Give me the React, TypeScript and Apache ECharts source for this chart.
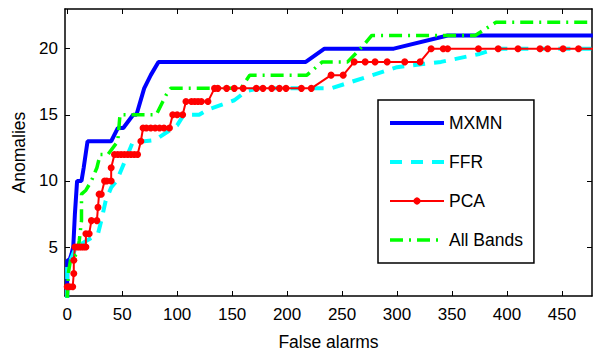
import React, { useEffect, useRef } from "react";
import * as echarts from "echarts";

const xTicks = [0, 50, 100, 150, 200, 250, 300, 350, 400, 450];
const yTicks = [5, 10, 15, 20];
const seriesNames = ["MXMN", "FFR", "PCA", "All Bands"];

const mxmn: [number, number][] = [
  [0, 1], [0, 4], [2, 4], [4, 4.5], [5.5, 5], [7, 7.5], [9, 10], [13, 10],
  [15, 11], [18.5, 13], [40, 13], [46, 14], [51, 14], [60, 15], [63, 15],
  [70, 17], [76, 18], [83, 19], [217, 19], [234, 20], [297, 20], [346, 21], [478, 21],
];

const ffr: [number, number][] = [
  [0, 1], [0, 4], [3, 4], [8, 5], [28, 6], [31, 7], [35, 8.5], [40, 9.5],
  [45, 10], [50, 11], [55, 12], [60, 13], [70, 13], [80, 13.1], [100, 14.2],
  [106, 15], [120, 15], [128, 15.4], [152, 16.1], [163, 16.8], [175, 17],
  [240, 17], [300, 18.6], [340, 19], [375, 19.6], [390, 20], [478, 20],
];

const pca: [number, number][] = [
  [0, 2], [2, 2], [5, 2], [6, 3], [6, 4], [7, 5], [9, 5], [11, 5], [13, 5],
  [15, 5], [17, 5], [17, 6], [20, 6], [22, 7], [27, 7], [28, 8], [29, 9],
  [31, 9], [34, 10], [36, 10], [40, 10], [40, 11], [43, 12], [46, 12],
  [49, 12], [52, 12], [55, 12], [58, 12], [61, 12], [64, 12], [67, 13],
  [69, 14], [72, 14], [76, 14], [80, 14], [84, 14], [88, 14], [93, 14],
  [96, 15], [100, 15], [105, 15], [108, 16], [113, 16], [116, 16], [119, 16],
  [122, 16], [128, 16], [134, 17], [137, 17], [145, 17], [152, 17], [160, 17],
  [172, 17], [178, 17], [186, 17], [193, 17], [199, 17], [213, 17], [222, 17],
  [240, 18], [251, 18], [261, 19], [271, 19], [280, 19], [291, 19], [307, 19],
  [321, 19], [331, 20], [342, 20], [346, 20], [374, 20], [392, 20], [410, 20],
  [430, 20], [437, 20], [451, 20], [465, 20], [485, 20],
];

const allBands: [number, number][] = [
  [0, 1], [1, 3], [3, 4], [9, 4.5], [11, 5.5], [13, 7], [13, 9], [17, 9.3],
  [22, 10], [27, 11], [30, 12], [37, 12], [46, 13], [48, 15], [81, 15],
  [87, 16], [90, 16.5], [94, 17], [158, 17], [166, 18], [218, 18], [225, 18.5],
  [232, 19], [255, 19], [262, 19.6], [270, 20.3], [277, 21], [371, 21],
  [390, 22], [478, 22],
];

const FONT = "'Liberation Sans', Arial, Helvetica, sans-serif";

export default function App() {
  const ref = useRef<HTMLDivElement>(null);
  useEffect(() => {
    document.body.style.margin = "0";
    const chart = echarts.init(ref.current!, undefined, { renderer: "svg" });
    const tickCommon = {
      show: true,
      inside: true,
      length: 5,
      lineStyle: { color: "#000", width: 1 },
    };
    const axisLine = { show: true, onZero: false, lineStyle: { color: "#000", width: 1.5 } };
    const xBase = {
      type: "value" as const,
      min: -2,
      max: 477.3,
      splitLine: { show: false },
      axisLine,
    };
    const yBase = {
      type: "value" as const,
      min: 1.3,
      max: 23,
      splitLine: { show: false },
      axisLine,
    };
    const hiddenSymbol = { color: "rgba(0,0,0,0)", opacity: 0 };
    chart.setOption({
      animation: false,
      backgroundColor: "#fff",
      grid: { left: 65, right: 2, top: 9, bottom: 59, containLabel: false },
      legend: {
        orient: "vertical",
        left: 378,
        top: 100,
        padding: [14, 11, 14, 10],
        itemGap: 21,
        itemWidth: 54,
        itemHeight: 9,
        borderColor: "#000",
        borderWidth: 1.5,
        backgroundColor: "#fff",
        lineStyle: { width: "inherit", type: "inherit" },
        data: [
          { name: seriesNames[0], itemStyle: hiddenSymbol },
          { name: seriesNames[1], itemStyle: hiddenSymbol },
          { name: seriesNames[2] },
          { name: seriesNames[3], itemStyle: hiddenSymbol },
        ],
        textStyle: { fontFamily: FONT, fontSize: 17.5, color: "#000" },
      },
      xAxis: [
        {
          ...xBase,
          position: "bottom",
          name: "False alarms",
          nameLocation: "middle",
          nameGap: 37,
          nameTextStyle: { fontFamily: FONT, fontSize: 17.5, color: "#000" },
          axisTick: { ...tickCommon, customValues: xTicks },
          axisLabel: {
            customValues: xTicks,
            margin: 10,
            fontFamily: FONT,
            fontSize: 17,
            color: "#000",
          },
        },
        {
          ...xBase,
          position: "top",
          axisTick: { ...tickCommon, customValues: xTicks },
          axisLabel: { show: false },
        },
      ],
      yAxis: [
        {
          ...yBase,
          position: "left",
          name: "Anomalies",
          nameLocation: "middle",
          nameGap: 30,
          nameTextStyle: { fontFamily: FONT, fontSize: 17.5, color: "#000" },
          axisTick: { ...tickCommon, customValues: yTicks },
          axisLabel: {
            customValues: yTicks,
            margin: 7,
            fontFamily: FONT,
            fontSize: 17,
            color: "#000",
          },
        },
        {
          ...yBase,
          position: "right",
          axisTick: { ...tickCommon, customValues: yTicks },
          axisLabel: { show: false },
        },
      ],
      series: [
        {
          name: "MXMN",
          type: "line",
          data: mxmn,
          symbol: "none",
          clip: true,
          lineStyle: { color: "#0000ff", width: 4 },
          itemStyle: { color: "#0000ff" },
        },
        {
          name: "FFR",
          type: "line",
          data: ffr,
          symbol: "none",
          clip: true,
          lineStyle: { color: "#00ffff", width: 4, type: [12, 9] },
          itemStyle: { color: "#00ffff" },
        },
        {
          name: "PCA",
          type: "line",
          data: pca,
          symbol: "circle",
          symbolSize: 7,
          showAllSymbol: true,
          clip: true,
          lineStyle: { color: "#ff0000", width: 2 },
          itemStyle: { color: "#ff0000" },
        },
        {
          name: "All Bands",
          type: "line",
          data: allBands,
          symbol: "none",
          clip: true,
          lineStyle: { color: "#00ff00", width: 3.5, type: [13, 6, 2, 6] },
          itemStyle: { color: "#00ff00" },
        },
      ],
    });
    return () => chart.dispose();
  }, []);
  return (
    <div
      ref={ref}
      style={{ position: "absolute", left: 0, top: 0, width: 594, height: 356 }}
    />
  );
}
